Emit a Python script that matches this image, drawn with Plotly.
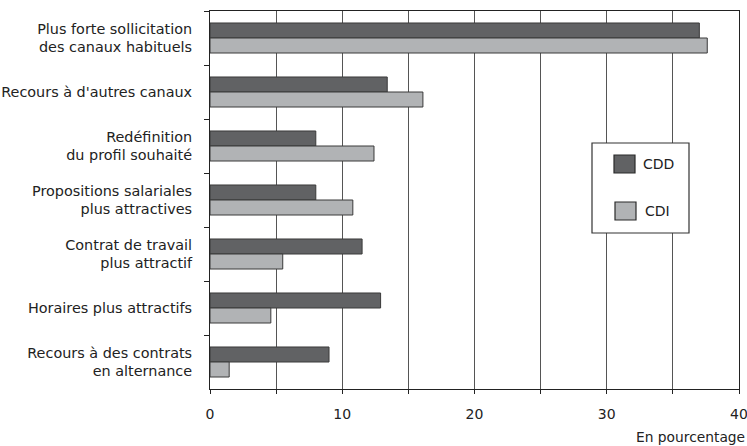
import plotly.graph_objects as go

# Recruitment responses by contract type (percent of establishments)
categories = [
    "Plus forte sollicitation<br>des canaux habituels",
    "Recours à d'autres canaux",
    "Redéfinition<br>du profil souhaité",
    "Propositions salariales<br>plus attractives",
    "Contrat de travail<br>plus attractif",
    "Horaires plus attractifs",
    "Recours à des contrats<br>en alternance",
]
cdd = [37.0, 13.4, 8.0, 8.0, 11.5, 12.9, 9.0]
cdi = [37.6, 16.1, 12.4, 10.8, 5.5, 4.6, 1.45]
series_names = ["CDD", "CDI"]

x_tickvals = [0, 5, 10, 15, 20, 25, 30, 35, 40]
x_ticktext = ["0", "", "10", "", "20", "", "30", "", "40"]

COL_CDD = "#616264"
COL_CDI = "#b1b3b5"
EDGE = "#3a3a3a"
FONT = "DejaVu Sans"
TXT = "#222222"

W, H = 747, 446
ML, MR, MT, MB = 210, 8, 11, 57
PW, PH = W - ML - MR, H - MT - MB


def px(xp):
    return (xp - ML) / PW


def py(yp):
    return (H - MB - yp) / PH


fig = go.Figure()
fig.add_trace(go.Bar(
    y=categories, x=cdd, name=series_names[0], orientation="h",
    marker=dict(color=COL_CDD, line=dict(color=EDGE, width=1)),
    showlegend=False,
))
fig.add_trace(go.Bar(
    y=categories, x=cdi, name=series_names[1], orientation="h",
    marker=dict(color=COL_CDI, line=dict(color=EDGE, width=1)),
    showlegend=False,
))

# Legend box drawn in paper space
shapes = [
    dict(type="rect", xref="paper", yref="paper",
         x0=px(592), x1=px(689), y0=py(233), y1=py(143),
         fillcolor="white", line=dict(color="#333333", width=1.2)),
    dict(type="rect", xref="paper", yref="paper",
         x0=px(614), x1=px(635), y0=py(173), y1=py(155),
         fillcolor=COL_CDD, line=dict(color="#2a2a2a", width=1.2)),
    dict(type="rect", xref="paper", yref="paper",
         x0=px(615), x1=px(636), y0=py(220), y1=py(202),
         fillcolor=COL_CDI, line=dict(color="#2a2a2a", width=1.2)),
]
annotations = [
    dict(text=series_names[0], xref="paper", yref="paper", x=px(641), y=py(164),
         xanchor="left", yanchor="middle", showarrow=False,
         font=dict(family=FONT, size=14, color=TXT)),
    dict(text=series_names[1], xref="paper", yref="paper", x=px(643), y=py(211),
         xanchor="left", yanchor="middle", showarrow=False,
         font=dict(family=FONT, size=14, color=TXT)),
    dict(text="En pourcentage", xref="paper", yref="paper", x=px(747), y=py(437),
         xanchor="right", yanchor="middle", showarrow=False,
         font=dict(family=FONT, size=13.8, color=TXT)),
]

fig.update_layout(
    width=W, height=H,
    margin=dict(l=ML, r=MR, t=MT, b=MB, autoexpand=False),
    paper_bgcolor="white", plot_bgcolor="white",
    barmode="group", bargap=0.444, bargroupgap=0,
    font=dict(family=FONT, size=14, color=TXT),
    shapes=shapes, annotations=annotations,
)
fig.update_xaxes(
    range=[0, 40], tickvals=x_tickvals, ticktext=x_ticktext,
    showgrid=True, gridcolor="#555555", gridwidth=1,
    showline=True, linecolor="#222222", linewidth=1, mirror=True,
    ticks="outside", ticklen=4, tickcolor="#222222",
    ticklabelstandoff=8, automargin=False, ticklabeloverflow="allow",
    zeroline=False, tickfont=dict(size=14),
)
fig.update_yaxes(
    autorange="reversed", tickson="boundaries",
    showgrid=False, showline=True, linecolor="#222222", linewidth=1, mirror=True,
    ticks="outside", ticklen=5, tickcolor="#222222",
    ticklabelstandoff=14, automargin=False, ticklabeloverflow="allow",
    tickfont=dict(size=14.4),
)

fig.write_html("out.html")
